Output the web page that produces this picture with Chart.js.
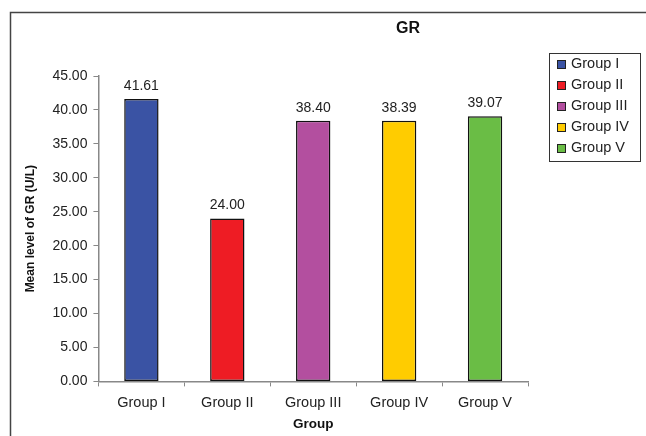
<!DOCTYPE html>
<html>
<head>
<meta charset="utf-8">
<script src="https://cdn.jsdelivr.net/npm/chart.js@4/dist/chart.umd.min.js"></script>
<style>
  html, body { margin: 0; padding: 0; background: #fff; }
  #wrap { width: 646px; height: 436px; position: relative; }
</style>
</head>
<body>
<div id="wrap"><canvas id="myChart" width="646" height="436"></canvas></div>
<script>
var groups = ['Group I', 'Group II', 'Group III', 'Group IV', 'Group V'];
var meanGR = [41.61, 24.00, 38.40, 38.39, 39.07];
var barColors = ['#3a53a4', '#ee1c24', '#b34f9f', '#ffcc00', '#6abd45'];
var yTicks = [0, 5, 10, 15, 20, 25, 30, 35, 40, 45];
var chartTitle = 'GR';

var FONT = 'Liberation Sans, Arial, sans-serif';

// outer frame of the picture + title
var framePlugin = {
  id: 'frame',
  beforeDraw: function(chart) {
    var c = chart.ctx;
    c.save();
    c.strokeStyle = '#444';
    c.lineWidth = 1.5;
    c.beginPath();
    c.moveTo(10.5, 436);
    c.lineTo(10.5, 12.5);
    c.lineTo(646, 12.5);
    c.stroke();
    c.font = 'bold 16px ' + FONT;
    c.fillStyle = '#111';
    c.textAlign = 'center';
    c.textBaseline = 'middle';
    c.fillText(chartTitle, 408, 29);
    c.restore();
  }
};

// value labels above the bars
var valueLabels = {
  id: 'valueLabels',
  afterDatasetsDraw: function(chart) {
    var c = chart.ctx;
    var meta = chart.getDatasetMeta(0);
    c.save();
    c.font = '14px ' + FONT;
    c.fillStyle = '#222';
    c.textAlign = 'center';
    c.textBaseline = 'bottom';
    meta.data.forEach(function(bar, i) {
      c.fillText(meanGR[i].toFixed(2), bar.x, bar.y - 6);
    });
    c.restore();
  }
};

// boxed legend on the right
var boxLegend = {
  id: 'boxLegend',
  afterDraw: function(chart) {
    var c = chart.ctx;
    var x0 = 549, y0 = 53, w = 91, h = 108;
    c.save();
    c.fillStyle = '#fff';
    c.fillRect(x0, y0, w, h);
    c.strokeStyle = '#333';
    c.lineWidth = 1;
    c.strokeRect(x0 + 0.5, y0 + 0.5, w, h);
    c.font = '14.5px ' + FONT;
    c.textBaseline = 'middle';
    groups.forEach(function(g, i) {
      var y = 64 + i * 21;
      c.fillStyle = barColors[i];
      c.fillRect(557, y - 4, 8, 8);
      c.strokeStyle = '#222';
      c.strokeRect(557.5, y - 3.5, 8, 8);
      c.fillStyle = '#222';
      c.fillText(g, 571, y);
    });
    c.restore();
  }
};

var ctx = document.getElementById('myChart').getContext('2d');
var myChart = new Chart(ctx, {
  type: 'bar',
  data: {
    labels: groups,
    datasets: [{
      data: meanGR,
      backgroundColor: barColors,
      borderColor: '#111',
      borderWidth: 1.5,
      borderSkipped: false,
      categoryPercentage: 1.0,
      barPercentage: 0.4
    }]
  },
  options: {
    responsive: false,
    animation: false,
    layout: { padding: { left: 23, right: 118, top: 76, bottom: 4 } },
    plugins: {
      legend: { display: false },
      tooltip: { enabled: false },
      title: { display: false }
    },
    scales: {
      x: {
        grid: {
          display: true,
          drawOnChartArea: false,
          drawTicks: true,
          tickLength: 5,
          color: '#888',
          offset: true
        },
        border: { color: '#888', width: 1.5 },
        ticks: {
          color: '#222',
          font: { family: FONT, size: 14.5 },
          padding: 8
        },
        title: {
          display: true,
          text: 'Group',
          color: '#111',
          font: { family: FONT, size: 13.5, weight: 'bold' },
          padding: { top: -4, bottom: 0 }
        }
      },
      y: {
        min: 0,
        max: 45,
        afterBuildTicks: function(axis) {
          axis.ticks = yTicks.map(function(v) { return { value: v }; });
        },
        grid: {
          display: true,
          drawOnChartArea: false,
          drawTicks: true,
          tickLength: 5,
          color: '#888'
        },
        border: { color: '#888', width: 1.5 },
        ticks: {
          color: '#222',
          font: { family: FONT, size: 14 },
          padding: 6,
          callback: function(v) { return Number(v).toFixed(2); }
        },
        title: {
          display: true,
          text: 'Mean level of GR (U/L)',
          color: '#111',
          font: { family: FONT, size: 12, weight: 'bold' },
          padding: { top: 0, bottom: 9 }
        }
      }
    }
  },
  plugins: [framePlugin, valueLabels, boxLegend]
});
</script>
</body>
</html>
